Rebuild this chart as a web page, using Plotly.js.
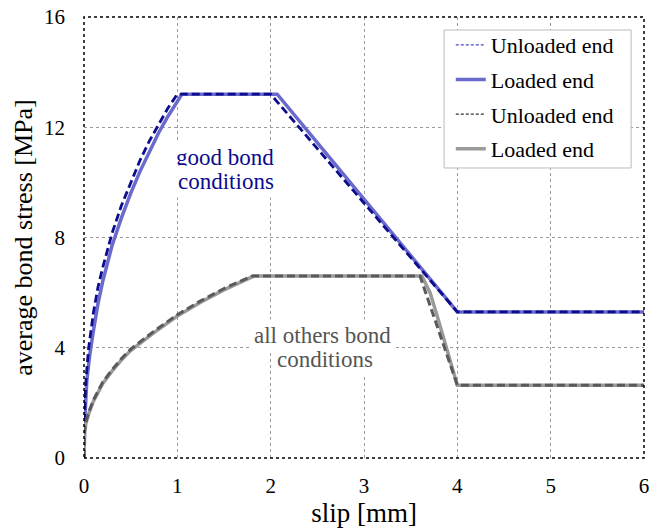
<!DOCTYPE html>
<html>
<head>
<meta charset="utf-8">
<script src="https://cdn.plot.ly/plotly-3.0.1.min.js"></script>
<style>html,body{margin:0;padding:0;background:#fff;}#chart{width:649px;height:530px;}</style>
</head>
<body>
<div id="chart"></div>
<script>
// Good bond conditions - unloaded end
const goodUnloadedX = [0, 0.005, 0.01, 0.025, 0.05, 0.1, 0.15, 0.2, 0.3, 0.4, 0.5, 0.6, 0.7, 0.8, 0.9, 1.0, 2.0, 4.0, 6.0];
const goodUnloadedY = [0, 1.6, 2.1, 3.0, 4.0, 5.25, 6.2, 6.9, 8.15, 9.15, 10.0, 10.8, 11.5, 12.1, 12.7, 13.2, 13.2, 5.3, 5.3];
// Good bond conditions - loaded end
const goodLoadedX = [0, 0.01, 0.03, 0.06, 0.1, 0.15, 0.2, 0.3, 0.4, 0.5, 0.6, 0.7, 0.8, 0.9, 1.0, 1.05, 2.07, 4.0, 6.0];
const goodLoadedY = [0, 1.5, 2.8, 3.7, 4.6, 5.6, 6.4, 7.7, 8.7, 9.6, 10.4, 11.1, 11.8, 12.4, 12.9, 13.2, 13.2, 5.3, 5.3];
// All other bond conditions - unloaded end
const otherUnloadedX = [0, 0.005, 0.02, 0.05, 0.1, 0.2, 0.3, 0.4, 0.5, 0.75, 1.0, 1.25, 1.5, 1.8, 3.6, 4.0, 6.0];
const otherUnloadedY = [0, 1.0, 1.3, 1.65, 2.1, 2.75, 3.2, 3.6, 3.95, 4.6, 5.2, 5.7, 6.15, 6.6, 6.6, 2.64, 2.64];
// All other bond conditions - loaded end
const otherLoadedX = [0, 0.005, 0.02, 0.05, 0.1, 0.2, 0.3, 0.4, 0.5, 0.75, 1.0, 1.25, 1.5, 1.82, 3.62, 3.66, 3.71, 3.78, 3.85, 3.91, 3.96, 4.0, 6.0];
const otherLoadedY = [0, 0.9, 1.25, 1.6, 2.05, 2.7, 3.15, 3.55, 3.9, 4.55, 5.15, 5.65, 6.1, 6.6, 6.6, 6.35, 5.98, 5.2, 4.4, 3.7, 3.1, 2.64, 2.64];

const legendNames = ["Unloaded end", "Loaded end", "Unloaded end", "Loaded end"];
const goodLabel = ["good bond", "conditions"];
const otherLabel = ["all others bond", "conditions"];
const xTicks = [0, 1, 2, 3, 4, 5, 6];
const yTicks = [0, 4, 8, 12, 16];

const FONT = "Liberation Serif, DejaVu Serif, serif";
const navy = "#0c0c8e";
const blueSolid = "#6a6acc";
const grayDash = "#5a5a5a";
const graySolid = "#9a9a9a";

const traces = [
  {x: goodLoadedX, y: goodLoadedY, mode: "lines", line: {color: blueSolid, width: 3.5}, showlegend: false, hoverinfo: "skip"},
  {x: goodUnloadedX, y: goodUnloadedY, mode: "lines", line: {color: navy, width: 2.8, dash: "8px,4px"}, showlegend: false, hoverinfo: "skip"},
  {x: otherLoadedX, y: otherLoadedY, mode: "lines", line: {color: graySolid, width: 3.5}, showlegend: false, hoverinfo: "skip"},
  {x: otherUnloadedX, y: otherUnloadedY, mode: "lines", line: {color: grayDash, width: 3, dash: "8px,4px"}, showlegend: false, hoverinfo: "skip"},
  // legend entries
  {x: [null], y: [null], mode: "lines", name: legendNames[0], legendgroup: "a", line: {color: "#4a4acc", width: 1.3, dash: "3px,2px"}},
  {x: [null], y: [null], mode: "lines", name: legendNames[1], legendgroup: "b", line: {color: blueSolid, width: 3.5}},
  {x: [null], y: [null], mode: "lines", name: legendNames[2], legendgroup: "c", line: {color: "#333", width: 1.3, dash: "3px,2px"}},
  {x: [null], y: [null], mode: "lines", name: legendNames[3], legendgroup: "d", line: {color: graySolid, width: 3.5}}
];

const annotations = [];
[[goodLabel, [1.51, 1.52], [10.92, 10.05], navy], [otherLabel, [2.56, 2.58], [4.43, 3.56], "#555"]].forEach(([lines, xs, ys, col]) => {
  lines.forEach((t, i) => annotations.push({
    x: xs[i], y: ys[i], xref: "x", yref: "y", text: t, showarrow: false,
    font: {size: 23, color: col, family: FONT}, bgcolor: "#fff", borderpad: 3
  }));
});

const layout = {
  width: 649, height: 530,
  margin: {l: 84, r: 5, t: 17, b: 72},
  paper_bgcolor: "#fff", plot_bgcolor: "#fff",
  font: {family: FONT, color: "#000", size: 20},
  xaxis: {
    range: [0, 6], tickvals: xTicks, ticktext: xTicks.map(String),
    showgrid: true, gridcolor: "#9a9a9a", griddash: "dot", gridwidth: 1,
    zeroline: false, showline: false, ticks: "", ticklen: 0, ticklabelstandoff: 13,
    ticklabeloverflow: "allow",
    tickfont: {size: 21, family: FONT},
    title: {text: "slip [mm]", font: {size: 27, family: FONT}, standoff: 5}
  },
  yaxis: {
    range: [0, 16], tickvals: yTicks, ticktext: yTicks.map(String),
    showgrid: true, gridcolor: "#9a9a9a", griddash: "dot", gridwidth: 1,
    zeroline: false, showline: false, ticks: "", ticklen: 0, ticklabelstandoff: 18,
    ticklabeloverflow: "allow",
    tickfont: {size: 21, family: FONT},
    title: {text: "average bond stress [MPa]", font: {size: 26, family: FONT}, standoff: 3}
  },
  legend: {
    x: 0.655, y: 0.984, xanchor: "left", yanchor: "top",
    bgcolor: "rgba(0,0,0,0)", borderwidth: 0,
    font: {size: 22, family: FONT}, tracegroupgap: 3,
    itemwidth: 30
  },
  shapes: [
    {type: "rect", xref: "paper", yref: "paper", x0: 0, x1: 1, y0: 0, y1: 1,
     line: {color: "#000", width: 1.5, dash: "dot"}, layer: "above"},
    {type: "rect", xref: "paper", yref: "paper", x0: 0.643, x1: 0.977, y0: 0.6576, y1: 0.9705,
     line: {color: "#bbb", width: 1}, fillcolor: "#fff", layer: "above"}
  ],
  annotations: annotations
};

Plotly.newPlot("chart", traces, layout, {displayModeBar: false, staticPlot: true});
</script>
</body>
</html>
